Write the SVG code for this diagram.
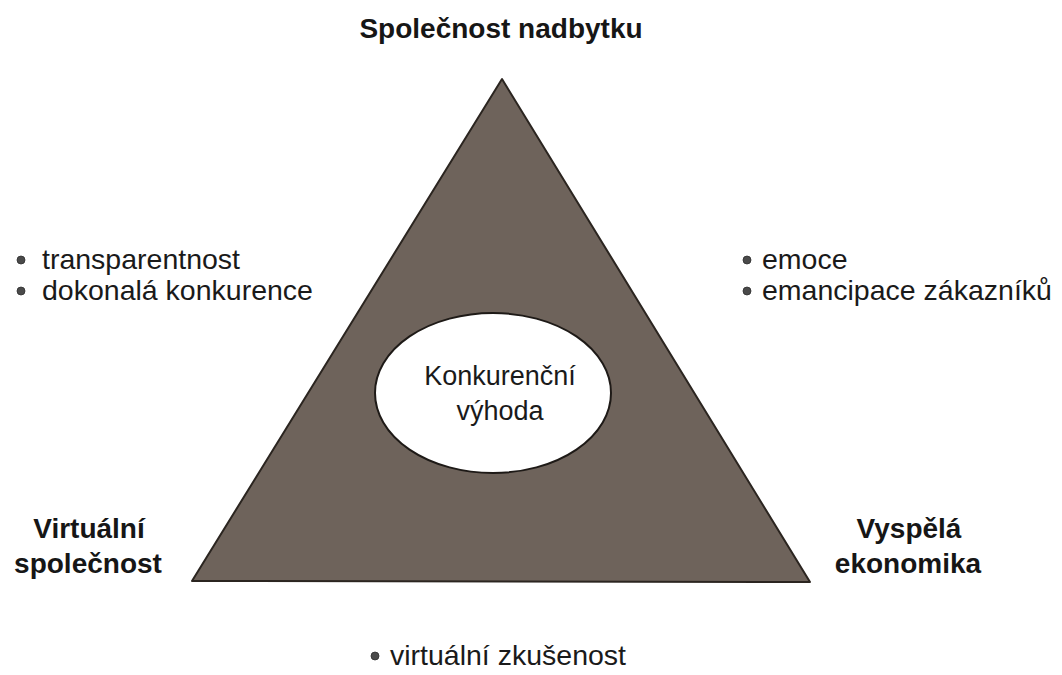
<svg xmlns="http://www.w3.org/2000/svg" width="1062" height="675" viewBox="0 0 1062 675">
  <style>
    .title { font-family: "Liberation Sans", Arial, sans-serif; font-weight: bold; font-size: 28px; fill: #161616; }
    .body { font-family: "Liberation Sans", Arial, sans-serif; font-size: 28.5px; fill: #1a1a1a; }
    .core { font-family: "Liberation Sans", Arial, sans-serif; font-size: 27px; fill: #1a1a1a; }
    .dot { fill: #4a4a4a; stroke: #2e2e2e; stroke-width: 0.8; }
  </style>
  <rect width="1062" height="675" fill="#ffffff"/>

  <g id="triangle">
    <polygon points="502,79 192,581 810,582" fill="#6e635b" stroke="#2b2520" stroke-width="2" stroke-linejoin="round"/>
  </g>

  <g id="core">
    <ellipse cx="493" cy="393" rx="118" ry="80" fill="#ffffff" stroke="#1e1a17" stroke-width="2"/>
    <text class="core" x="500" y="385" text-anchor="middle">Konkurenční</text>
    <text class="core" x="500" y="420" text-anchor="middle">výhoda</text>
  </g>

  <g id="top-label">
    <text class="title" x="501" y="38" text-anchor="middle">Společnost nadbytku</text>
  </g>

  <g id="left-label">
    <text class="title" x="89" y="538" text-anchor="middle">Virtuální</text>
    <text class="title" x="88" y="573" text-anchor="middle">společnost</text>
  </g>

  <g id="right-label">
    <text class="title" x="909" y="538" text-anchor="middle">Vyspělá</text>
    <text class="title" x="908" y="573" text-anchor="middle">ekonomika</text>
  </g>

  <g id="left-bullets">
    <circle class="dot" cx="21" cy="260" r="4"/>
    <text class="body" x="42" y="269">transparentnost</text>
    <circle class="dot" cx="21" cy="291" r="4"/>
    <text class="body" x="42" y="300">dokonalá konkurence</text>
  </g>

  <g id="right-bullets">
    <circle class="dot" cx="747" cy="260" r="4"/>
    <text class="body" x="762" y="269">emoce</text>
    <circle class="dot" cx="747" cy="291" r="4"/>
    <text class="body" x="762" y="300">emancipace zákazníků</text>
  </g>

  <g id="bottom-bullet">
    <circle class="dot" cx="375" cy="656" r="4"/>
    <text class="body" x="390" y="665">virtuální zkušenost</text>
  </g>
</svg>
